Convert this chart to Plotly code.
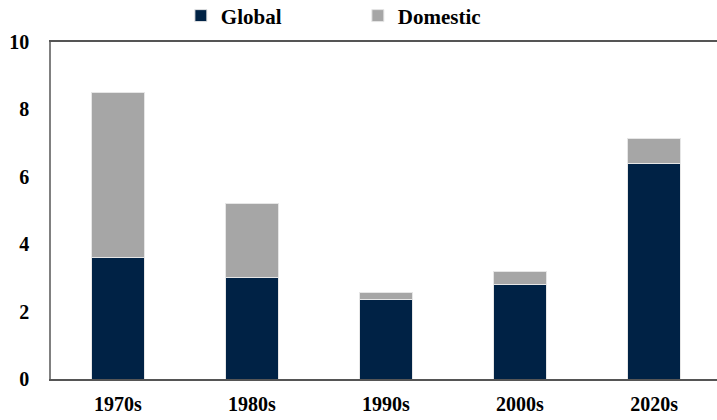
import plotly.graph_objects as go

decades = ["1970s", "1980s", "1990s", "2000s", "2020s"]
global_vals = [3.6, 3.0, 2.35, 2.8, 6.4]
domestic_vals = [4.9, 2.2, 0.22, 0.4, 0.73]
y_ticks = [0, 2, 4, 6, 8, 10]

SERIF = "Times New Roman, Liberation Serif, serif"
tick_font = dict(family=SERIF, size=20, color="#000000", weight="bold")

fig = go.Figure()
fig.add_trace(go.Bar(
    x=decades, y=global_vals, name="Global",
    marker=dict(color="#002245", line=dict(color="#e6e6e6", width=1)),
))
fig.add_trace(go.Bar(
    x=decades, y=domestic_vals, name="Domestic",
    marker=dict(color="#a6a6a6", line=dict(color="#e6e6e6", width=1)),
))

fig.update_layout(
    barmode="stack",
    bargap=0.6,
    width=717, height=420,
    margin=dict(l=51, r=0, t=42, b=41),
    plot_bgcolor="white",
    paper_bgcolor="white",
    font=dict(family=SERIF, size=20, color="#000000"),
    legend=dict(
        orientation="h",
        traceorder="normal",
        x=0.195, xanchor="left",
        yref="container",
        y=0.962, yanchor="middle",
        entrywidth=132,
        font=dict(family=SERIF, size=21, color="#000000", weight="bold"),
        bgcolor="rgba(0,0,0,0)",
    ),
)
fig.update_xaxes(
    range=[-0.5, 4.47],
    automargin=False,
    showline=True, linecolor="#555555", linewidth=1.5, mirror=True,
    ticks="", tickfont=tick_font,
    ticklabelstandoff=6,
)
fig.update_yaxes(
    range=[0, 10],
    tickvals=y_ticks,
    automargin=False,
    showline=True, linecolor="#808080", linewidth=1.5,
    showgrid=False, zeroline=False,
    ticks="", tickfont=tick_font,
    ticklabelstandoff=16,
)

# page body has a default 8px margin; drop it so the figure fills the window
fig.write_html(
    "out.html",
    config={"displayModeBar": False},
    post_script="document.body.style.margin='0';",
)
